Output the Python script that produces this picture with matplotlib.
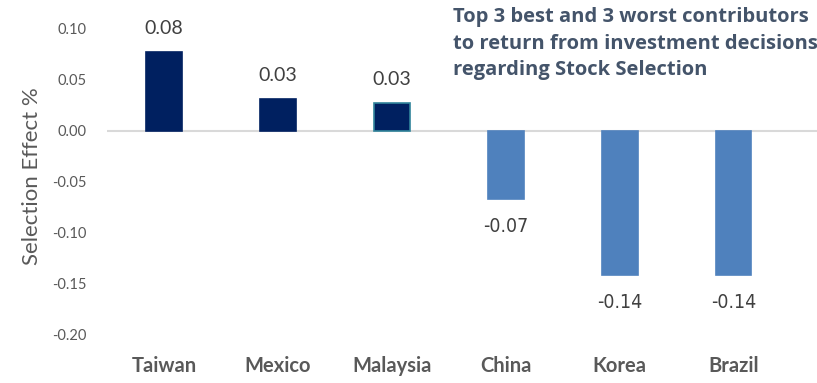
import matplotlib.pyplot as plt

countries = ["Taiwan", "Mexico", "Malaysia", "China", "Korea", "Brazil"]
selection_effect = [0.077, 0.031, 0.027, -0.067, -0.142, -0.142]
yticks = [0.10, 0.05, 0.00, -0.05, -0.10, -0.15, -0.20]

plt.rcParams['font.family'] = ['Lato', 'DejaVu Sans']

fig = plt.figure(figsize=(8.17, 3.83), dpi=100)
ax = fig.add_axes([107 / 817, 49 / 383, 710 / 817, 305 / 383])

colors = ["#002060" if v > 0 else "#4F81BD" for v in selection_effect]
edges = ["#002060", "#002060", "#31849B", "#4F81BD", "#4F81BD", "#4F81BD"]
x = list(range(len(countries)))
ax.bar(x, selection_effect, width=0.31, color=colors, edgecolor=edges, linewidth=1.2, zorder=3)

# value labels above positive bars, below negative ones
for xi, v in zip(x, selection_effect):
    if v > 0:
        ax.annotate(f"{v:.2f}", (xi, v), xytext=(0, 17), textcoords="offset points",
                    ha="center", va="center", fontsize=14, color="#404040")
    else:
        ax.annotate(f"{v:.2f}", (xi, v), xytext=(0, -20), textcoords="offset points",
                    ha="center", va="center", fontsize=14, color="#404040",
                    family="DejaVu Sans", fontstretch="condensed")

ax.axhline(0, color="#D9D9D9", lw=1.5, zorder=2)
ax.set_xlim(-0.5, 5.73)
ax.set_ylim(-0.20, 0.10)
ax.set_yticks(yticks)
ax.set_yticklabels([f"{t:.2f}" for t in yticks], fontsize=10.5, color="#595959")
ax.set_xticks(x)
ax.set_xticklabels(countries, fontsize=14.5, fontweight="bold", color="#595959")
ax.tick_params(axis="both", length=0)
ax.tick_params(axis="y", pad=15)
ax.tick_params(axis="x", pad=16)
for s in ax.spines.values():
    s.set_visible(False)

fig.text(32 / 817, 1 - 176 / 383, "Selection Effect %", rotation=90, ha="center", va="center",
         fontsize=16, color="#595959")

fig.text(453 / 817, 1 - 7 / 383,
         "Top 3 best and 3 worst contributors\nto return from investment decisions\nregarding Stock Selection",
         ha="left", va="top", fontsize=14.5, fontweight="bold", color="#44546A", linespacing=1.45,
         family="Open Sans")

fig.savefig("out.png", dpi=100)
